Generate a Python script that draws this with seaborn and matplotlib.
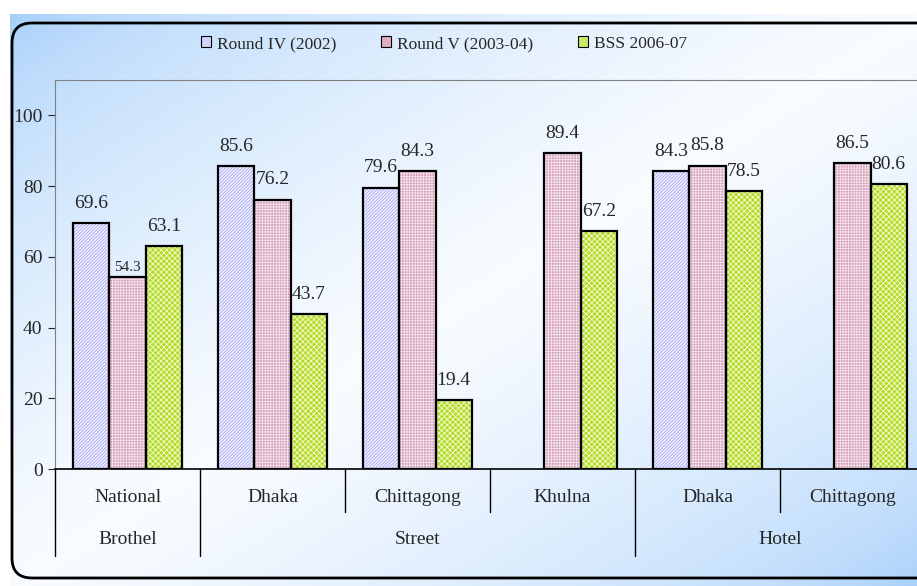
import numpy as np
import pandas as pd
import seaborn as sns
import matplotlib.pyplot as plt
from matplotlib.patches import FancyBboxPatch, Rectangle
from matplotlib.transforms import IdentityTransform, blended_transform_factory

places = ['National', 'Dhaka', 'Chittagong', 'Khulna', 'Dhaka', 'Chittagong']
settings = ['Brothel', 'Street', 'Street', 'Street', 'Hotel', 'Hotel']
rounds = ['Round IV (2002)', 'Round V (2003-04)', 'BSS 2006-07']
round_iv = [69.6, 85.6, 79.6, np.nan, 84.3, np.nan]
round_v = [54.3, 76.2, 84.3, 89.4, 85.8, 86.5]
bss = [63.1, 43.7, 19.4, 67.2, 78.5, 80.6]

# face colour, hatch colour, hatch pattern, flat colour for legend
styles = [('#f2f2ff', '#a4a4f4', '//////////', '#d2d2fa'),
          ('#d6a0b8', '#f4e4ec', '++++++', '#dfb0c4'),
          ('#b4da2a', '#f4fcd4', 'xxxxxx', '#cce86a')]

sns.set_style('white')
plt.rcParams['font.family'] = ['Liberation Serif', 'DejaVu Serif']
plt.rcParams['hatch.linewidth'] = 0.6

keys = [f'{s}|{p}' for s, p in zip(settings, places)]
rows = []
for name, vals in zip(rounds, [round_iv, round_v, bss]):
    for k, v in zip(keys, vals):
        if not np.isnan(v):
            rows.append({'key': k, 'round': name, 'value': v})
df = pd.DataFrame(rows)

fig = plt.figure(figsize=(9.17, 5.86), dpi=100)
fig.patch.set_facecolor('white')

# background gradient panel
bg = fig.add_axes([10 / 917, 0, 1, (586 - 14) / 586])
bg.set_axis_off()
yy, xx = np.mgrid[0:1:300j, 0:1:450j]
s = (xx + yy) / 2
w = np.clip(1 - np.abs(s - 0.5) * 2, 0, 1) ** 0.55
blue = np.array([0.63, 0.80, 0.98])
white = np.array([0.98, 0.99, 1.0])
img = blue[None, None, :] * (1 - w[..., None]) + white[None, None, :] * w[..., None]
bg.imshow(img, aspect='auto', extent=[0, 1, 0, 1], origin='upper')
bg.set_xlim(0, 1)
bg.set_ylim(0, 1)

frame = FancyBboxPatch((12, 8), 960, 555, boxstyle='round,pad=0,rounding_size=20',
                       transform=IdentityTransform(), fill=False,
                       edgecolor='black', linewidth=2.0, zorder=5)
fig.patches.append(frame)

ax = fig.add_axes([55 / 917, 1 - 469 / 586, 870 / 917, 389 / 586])
ax.patch.set_alpha(0)

sns.barplot(data=df, x='key', y='value', hue='round', order=keys,
            hue_order=rounds, width=0.75, dodge=True, errorbar=None,
            legend=False, ax=ax)

for cont, (fc, hc, hatch, _) in zip(ax.containers, styles):
    for bar in cont:
        bar.set_facecolor(fc)
        bar.set_edgecolor(hc)
        bar.set_hatch(hatch)
        bar.set_linewidth(0)
        ax.add_patch(Rectangle(bar.get_xy(), bar.get_width(), bar.get_height(),
                               fill=False, edgecolor='black', linewidth=1.6, zorder=3))
    texts = ax.bar_label(cont, fmt='%.1f', padding=8, fontsize=14)
    for t in texts:
        if t.get_text() == '54.3':
            t.set_fontsize(11)
            t.xyann = (0, 2)

ax.set_ylim(0, 110)
ax.set_xlim(-0.5, len(keys) - 0.5)
ax.set_yticks([0, 20, 40, 60, 80, 100])
ax.tick_params(axis='y', labelsize=14, length=5, direction='out', left=True, pad=4)
ax.set_xticks([])
ax.set_xlabel('')
ax.set_ylabel('')
ax.spines['left'].set_color('#808080')
ax.spines['top'].set_color('#808080')
ax.spines['right'].set_visible(False)
ax.spines['bottom'].set_color('black')
ax.spines['bottom'].set_linewidth(1.2)

# two-level category axis
tr = blended_transform_factory(ax.transData, ax.transAxes)
for i, p in enumerate(places):
    ax.text(i, -0.072, p, transform=tr, ha='center', va='center', fontsize=14)
groups = []
for i, s_ in enumerate(settings):
    if groups and groups[-1][0] == s_:
        groups[-1][2] = i
    else:
        groups.append([s_, i, i])
for name, a, b in groups:
    ax.text((a + b) / 2, -0.1825, name, transform=tr, ha='center', va='center', fontsize=14)
    ax.plot([a - 0.5, a - 0.5], [0, -0.224], transform=tr, color='black',
            linewidth=1, clip_on=False)
    for j in range(a + 1, b + 1):
        ax.plot([j - 0.5, j - 0.5], [0, -0.11], transform=tr, color='black',
                linewidth=1, clip_on=False)

handles = [Rectangle((0, 0), 1, 1, facecolor=lc, edgecolor='black', linewidth=0.8)
           for fc, hc, h, lc in styles]
leg = fig.legend(handles, rounds, loc='center', bbox_to_anchor=(0.484, 0.925), ncol=3,
                 frameon=False, fontsize=12.5, handlelength=0.6, handleheight=0.6,
                 handletextpad=0.3, columnspacing=2.6)

fig.savefig('out.png', dpi=100)
